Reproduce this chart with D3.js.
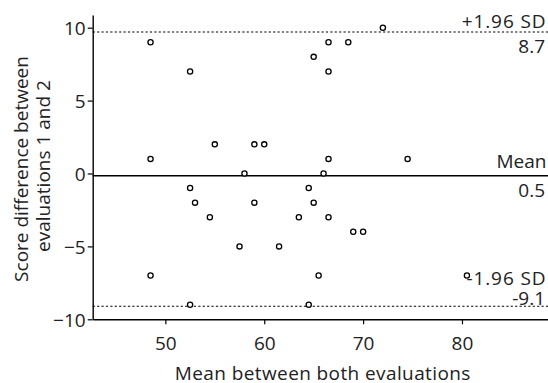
<!DOCTYPE html>
<html>
<head>
<meta charset="utf-8">
<script src="https://cdn.jsdelivr.net/npm/d3@7"></script>
<style>
  html, body { margin: 0; padding: 0; background: #fff; }
  svg { display: block; }
  text { font-family: "Open Sans", sans-serif; fill: #222; }
</style>
</head>
<body>
<svg id="chart" width="548" height="383"></svg>
<script>
// Data
const meanValues = [48.5, 52.5, 48.5, 55, 72, 66.5, 68.5, 65, 66.5, 59, 60, 66.5, 58, 66, 74.5,
                    52.5, 53, 54.5, 48.5, 52.5, 64.5, 59, 65, 63.5, 66.5, 69, 70, 57.5, 61.5, 65.5, 64.5, 80.5];
const diffValues = [9, 7, 1, 2, 10, 9, 9, 8, 7, 2, 2, 1, 0, 0, 1,
                    -1, -2, -3, -7, -9, -1, -2, -2, -3, -3, -4, -4, -5, -5, -7, -9, -7];
const xTicks = [50, 60, 70, 80];
const yTicks = [-10, -5, 0, 5, 10];
const refLineValues = [9.7, -0.15, -9.1];        // drawn positions of the reference lines
const refLineKinds = ["dashed", "solid", "dashed"];
const refLabels = ["+1.96 SD", "Mean", "-1.96 SD"];
const refValueLabels = ["8.7", "0.5", "-9.1"];
const xTitle = "Mean between both evaluations";
const yTitleLines = ["Score difference between", "evaluations 1 and 2"];

(function () {
const svg = d3.select("#chart");
const FS = 19;
const mLeft = 92.7, mRight = 548, mTop = 15, mBottom = 319.3;

const x = d3.scaleLinear().domain([42.65, 88.7]).range([mLeft, mRight]);
const y = d3.scaleLinear().domain([-10, 10.87]).range([mBottom, mTop]);

// reference labels (drawn first so the lines sit over them)
const labelYs = [[28.3, 53.3], [168.3, 196.7], [285, 304.5]];
refLabels.forEach((t, i) => {
  svg.append("text").attr("x", 546.5).attr("y", labelYs[i][0])
    .attr("text-anchor", "end").attr("font-size", FS)
    .attr("letter-spacing", t === "Mean" ? 0 : 0.9).text(t);
  svg.append("text").attr("x", 545).attr("y", labelYs[i][1])
    .attr("text-anchor", "end").attr("font-size", FS).text(refValueLabels[i]);
});

// reference lines
refLineValues.forEach((v, i) => {
  svg.append("line")
    .attr("x1", mLeft).attr("x2", mRight)
    .attr("y1", y(v)).attr("y2", y(v))
    .attr("stroke", "#000")
    .attr("stroke-width", refLineKinds[i] === "solid" ? 1.4 : 1.1)
    .attr("stroke-dasharray", refLineKinds[i] === "solid" ? null : "2.2,2.2");
});

// axes
const xAxis = d3.axisBottom(x).tickValues(xTicks).tickSize(5).tickPadding(12).tickSizeOuter(0);
const yAxis = d3.axisLeft(y).tickValues(yTicks).tickSize(5).tickPadding(2).tickSizeOuter(0);

const gx = svg.append("g").attr("transform", `translate(0,${mBottom})`).call(xAxis);
const gy = svg.append("g").attr("transform", `translate(${mLeft},0)`).call(yAxis);
[gx, gy].forEach(g => {
  g.select(".domain").attr("stroke", "#000").attr("stroke-width", 1.4);
  g.selectAll(".tick line").attr("stroke", "#000").attr("stroke-width", 1.2);
  g.selectAll(".tick text").attr("font-family", "'Open Sans', sans-serif")
    .attr("font-size", FS).attr("fill", "#222");
});
gy.selectAll(".tick text").attr("dy", "0.36em");

// points
svg.append("g").selectAll("circle")
  .data(meanValues.map((m, i) => [m, diffValues[i]]))
  .join("circle")
  .attr("cx", d => x(d[0]))
  .attr("cy", d => y(d[1]))
  .attr("r", 2.6)
  .attr("fill", "#fff")
  .attr("stroke", "#000")
  .attr("stroke-width", 1.3);

// axis titles
svg.append("text").attr("x", 322.8).attr("y", 380)
  .attr("text-anchor", "middle").attr("font-size", FS)
  .attr("letter-spacing", 0.4).text(xTitle);

yTitleLines.forEach((t, i) => {
  svg.append("text")
    .attr("transform", `translate(${i === 0 ? 28 : 50},${i === 0 ? 169 : 166}) rotate(-90)`)
    .attr("text-anchor", "middle").attr("font-size", FS).text(t);
});
})();
</script>
</body>
</html>
